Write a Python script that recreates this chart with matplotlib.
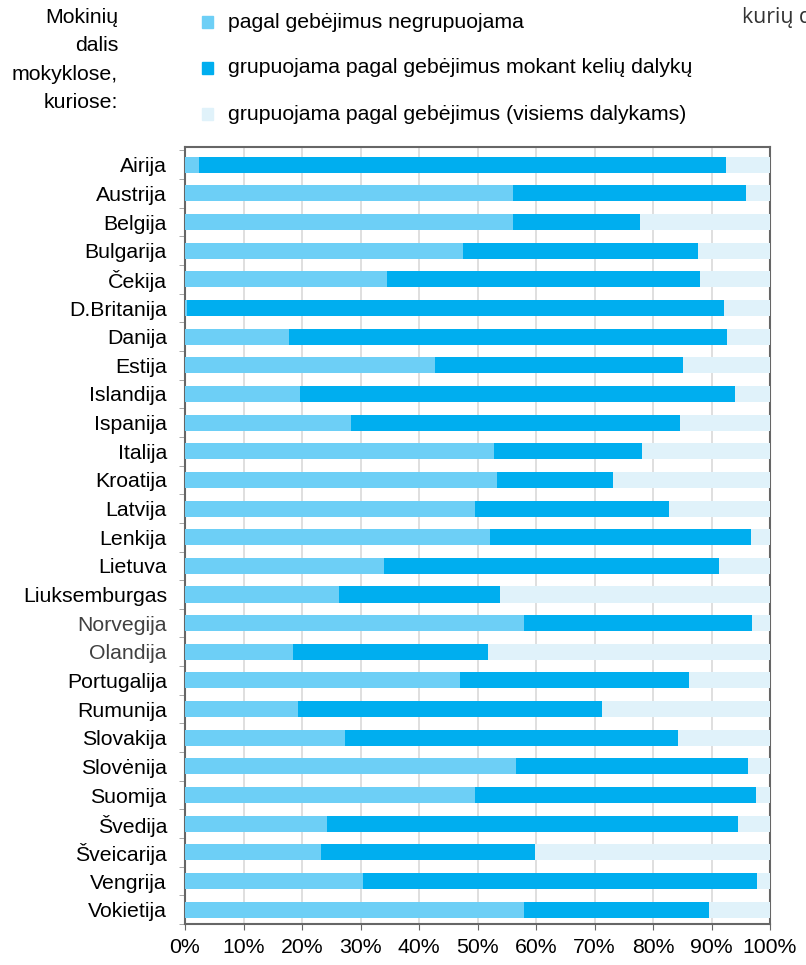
import numpy as np
import matplotlib.pyplot as plt

plt.rcParams['font.family'] = ['Liberation Sans', 'DejaVu Sans']

# Duomenys (procentai, nuskaityti nuo paveikslo)
salys = ["Airija", "Austrija", "Belgija", "Bulgarija", "Čekija", "D.Britanija",
         "Danija", "Estija", "Islandija", "Ispanija", "Italija", "Kroatija",
         "Latvija", "Lenkija", "Lietuva", "Liuksemburgas", "Norvegija",
         "Olandija", "Portugalija", "Rumunija", "Slovakija", "Slovėnija",
         "Suomija", "Švedija", "Šveicarija", "Vengrija", "Vokietija"]

negrupuojama = [2.4, 56.1, 56.1, 47.5, 34.5, 0.4, 17.8, 42.7, 19.7, 28.3,
                52.8, 53.4, 49.6, 52.1, 34.0, 26.4, 58.0, 18.5, 47.0, 19.4,
                27.3, 56.6, 49.6, 24.3, 23.2, 30.5, 58.0]

# kumuliatyvi riba (negrupuojama + grupuojama keliems dalykams)
iki_kelių = [92.4, 95.9, 77.8, 87.7, 88.0, 92.1, 92.7, 85.1, 94.0, 84.7,
             78.2, 73.2, 82.8, 96.7, 91.3, 53.8, 96.9, 51.8, 86.1, 71.3,
             84.3, 96.2, 97.6, 94.5, 59.9, 97.8, 89.5]

serijos = ["pagal gebėjimus negrupuojama",
           "grupuojama pagal gebėjimus mokant kelių dalykų",
           "grupuojama pagal gebėjimus (visiems dalykams)"]
spalvos = ["#6DCFF6", "#00AEEF", "#E0F2FA"]
pilki = ["Norvegija", "Olandija"]

a = np.array(negrupuojama)
b = np.array(iki_kelių) - a
c = 100 - np.array(iki_kelių)
y = np.arange(len(salys))

fs = 15.3

fig = plt.figure(figsize=(8.06, 9.65), dpi=100)
ax = fig.add_axes([185/806, 1 - 924/965, 585/806, (924 - 147)/965])

h = 0.56
ax.barh(y, a, height=h, color=spalvos[0], zorder=3)
ax.barh(y, b, left=a, height=h, color=spalvos[1], zorder=3)
ax.barh(y, c, left=a + b, height=h, color=spalvos[2], zorder=3)

ax.set_xlim(0, 100)
ax.set_ylim(len(salys) - 0.55, -0.62)
ax.set_xticks(np.arange(0, 101, 10))
ax.set_xticklabels([f"{v}%" for v in range(0, 101, 10)], fontsize=fs)
ax.set_yticks(y)
ax.set_yticklabels(salys, fontsize=fs)
for t in ax.get_yticklabels():
    if t.get_text() in pilki:
        t.set_color("#404040")
ax.set_yticks(np.arange(len(salys) + 1) - 0.5, minor=True)
ax.tick_params(axis="y", which="major", length=0, pad=13)
ax.tick_params(axis="y", which="minor", length=4, color="#999999")
ax.tick_params(axis="x", length=4, color="#666666", pad=6)

ax.grid(axis="x", color="#d9d9d9", linewidth=1.2, zorder=0)
for s in ax.spines.values():
    s.set_color("#666666")
    s.set_linewidth(1.5)
    s.set_zorder(2)

# kairysis antraštinis tekstas
fig.text(118/806, 1 - 8/965, "Mokinių\ndalis\nmokyklose,\nkuriose:",
         ha="right", va="top", fontsize=fs, linespacing=1.62)

# legenda
leg_y = [22, 68, 114]
for lbl, col, yy in zip(serijos, spalvos, leg_y):
    fig.patches.append(plt.Rectangle((202/806, 1 - (yy + 6)/965), 11/806, 12/965,
                                     transform=fig.transFigure, color=col))
    fig.text(228/806, 1 - yy/965, lbl, ha="left", va="center", fontsize=fs)

# tekstas dešinėje, nukirstas kaip originale
fig.text(742/806, 1 - 18/965, "kurių dalis", ha="left", va="center",
         fontsize=fs, color="#333333", family="Open Sans")

fig.savefig("out.png", dpi=100)
